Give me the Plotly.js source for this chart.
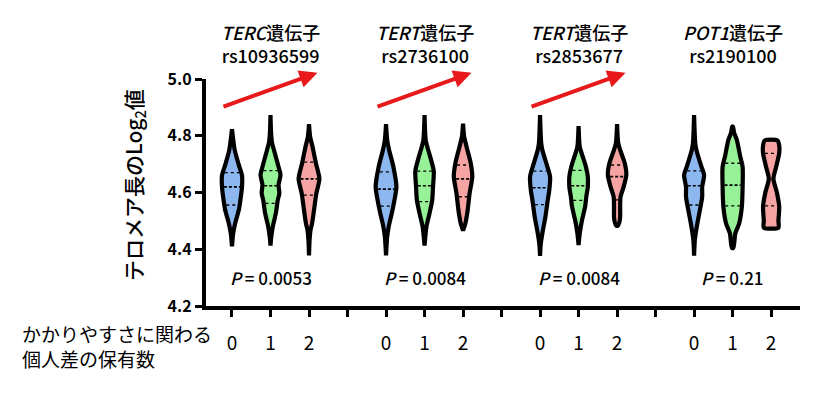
<!DOCTYPE html>
<html>
<head>
<meta charset="utf-8">
<script src="https://cdn.plot.ly/plotly-3.0.1.min.js"></script>
<style>html,body{margin:0;padding:0;background:#fff;}#chart{width:828px;height:398px;}</style>
</head>
<body>
<div id="chart"></div>
<script>
// ---------- data ----------
const groupLabels = ['0', '1', '2'];
const genes = ['TERC', 'TERT', 'TERT', 'POT1'];
const snps = ['rs10936599', 'rs2736100', 'rs2853677', 'rs2190100'];
const pValues = ['0.0053', '0.0084', '0.0084', '0.21'];
const trendUp = [true, true, true, false];
const fillColors = ['#8db7ef', '#97f197', '#f5a3a3'];

// quartiles per gene [0,1,2]
const medians = [[4.620, 4.624, 4.648], [4.612, 4.624, 4.648], [4.617, 4.624, 4.656], [4.624, 4.626, 4.648]];
const q3s = [[4.670, 4.677, 4.707], [4.673, 4.675, 4.697], [4.675, 4.678, 4.697], [4.676, 4.703, 4.738]];
const q1s = [[4.556, 4.562, 4.591], [4.552, 4.568, 4.585], [4.557, 4.572, 4.574], [4.556, 4.553, 4.553]];

// density outlines: [log2 value, half-width] from top to bottom
const densityTERC_rs10936599 = [
  [[4.823,0],[4.80,0.02],[4.75,0.07],[4.70,0.17],[4.66,0.26],[4.62,0.26],[4.575,0.22],[4.54,0.18],[4.49,0.08],[4.455,0.03],[4.41,0]],
  [[4.873,0],[4.81,0.015],[4.775,0.04],[4.75,0.09],[4.69,0.21],[4.662,0.26],[4.627,0.21],[4.597,0.23],[4.574,0.19],[4.527,0.14],[4.48,0.06],[4.444,0.02],[4.413,0]],
  [[4.841,0],[4.796,0.03],[4.762,0.09],[4.703,0.18],[4.648,0.27],[4.597,0.19],[4.538,0.13],[4.491,0.08],[4.468,0.04],[4.433,0.015],[4.378,0]]
];
const densityTERT_rs2736100 = [
  [[4.841,0],[4.785,0.03],[4.75,0.08],[4.691,0.19],[4.62,0.27],[4.574,0.22],[4.527,0.15],[4.48,0.07],[4.444,0.03],[4.378,0]],
  [[4.873,0],[4.785,0.03],[4.762,0.07],[4.715,0.17],[4.675,0.24],[4.62,0.22],[4.574,0.20],[4.527,0.13],[4.48,0.05],[4.413,0]],
  [[4.843,0],[4.796,0.03],[4.762,0.09],[4.703,0.20],[4.656,0.24],[4.597,0.17],[4.538,0.12],[4.491,0.06],[4.466,0]]
];
const densityTERT_rs2853677 = [
  [[4.873,0],[4.774,0.03],[4.75,0.06],[4.691,0.19],[4.656,0.26],[4.609,0.24],[4.574,0.20],[4.515,0.14],[4.456,0.06],[4.42,0.02],[4.377,0]],
  [[4.834,0],[4.762,0.03],[4.738,0.08],[4.691,0.19],[4.656,0.24],[4.62,0.24],[4.585,0.20],[4.55,0.17],[4.503,0.09],[4.456,0.03],[4.415,0]],
  [[4.841,0],[4.774,0.03],[4.75,0.08],[4.703,0.20],[4.662,0.24],[4.62,0.17],[4.585,0.09],[4.55,0.08],[4.515,0.08],[4.495,0.06],[4.483,0.02]]
];
const densityPOT1_rs2190100 = [
  [[4.873,0],[4.774,0.03],[4.75,0.06],[4.691,0.19],[4.662,0.26],[4.62,0.21],[4.585,0.21],[4.538,0.15],[4.48,0.07],[4.433,0.02],[4.377,0]],
  [[4.832,0.01],[4.81,0.04],[4.785,0.11],[4.726,0.20],[4.691,0.26],[4.62,0.26],[4.55,0.24],[4.491,0.17],[4.456,0.07],[4.405,0.02]],
  [[4.783,0.17],[4.765,0.21],[4.738,0.21],[4.69,0.13],[4.648,0.06],[4.60,0.15],[4.55,0.21],[4.50,0.19],[4.476,0.19]]
];
const densities = [densityTERC_rs10936599, densityTERT_rs2736100, densityTERT_rs2853677, densityPOT1_rs2190100];

// ---------- build ----------
const FONT = '"Noto Sans CJK JP", "Open Sans", sans-serif';
const LW = 4.2;
const lineInset = 0.05;
function pos(g, k) { return 1 + 4 * g + k; }
function hwAt(prof, v) {
  for (let i = 0; i < prof.length - 1; i++) {
    const a = prof[i], b = prof[i + 1];
    if (v <= a[0] && v >= b[0]) { const t = (a[0] - v) / (a[0] - b[0]); return a[1] + t * (b[1] - a[1]); }
  }
  return 0;
}

const traces = [];
const tickvals = [], ticktext = [];
for (let p = 1; p <= 4 * genes.length - 1; p++) {
  tickvals.push(p);
  const k = (p - 1) % 4;
  ticktext.push(k < 3 ? groupLabels[k] : '');
}

genes.forEach((gene, g) => {
  groupLabels.forEach((lab, k) => {
    const c = pos(g, k);
    const prof = densities[g][k];
    const xs = [], ys = [];
    prof.forEach(([v, w]) => { xs.push(c + w); ys.push(v); });
    for (let i = prof.length - 1; i >= 0; i--) { xs.push(c - prof[i][1]); ys.push(prof[i][0]); }
    xs.push(xs[0]); ys.push(ys[0]);
    traces.push({
      type: 'scatter', mode: 'lines', x: xs, y: ys, fill: 'toself', fillcolor: fillColors[k],
      line: { color: '#000', width: LW, shape: 'spline', smoothing: 0.7 }, hoverinfo: 'skip', cliponaxis: false
    });
    const qs = [[q1s[g][k], 'dot', 1.3], [medians[g][k], '3px,2px', 1.6], [q3s[g][k], 'dot', 1.3]];
    qs.forEach(([v, dash, wdt]) => {
      const w = Math.max(hwAt(prof, v) - lineInset, 0);
      traces.push({
        type: 'scatter', mode: 'lines', x: [c - w, c + w], y: [v, v],
        line: { color: '#000', width: wdt, dash: dash }, hoverinfo: 'skip'
      });
    });
  });
});

const annotations = [];
const yPix = py => (306 - py) / 227; // paper y helper for text rows
const titleFont = { family: FONT, size: 18, color: '#000', weight: 500 };
genes.forEach((gene, g) => {
  const c = pos(g, 1);
  annotations.push({ xref: 'x', yref: 'paper', x: c, y: yPix(43.5), text: '<i>' + gene + '</i>遺伝子<br>' + snps[g], showarrow: false,
    font: titleFont, xanchor: 'center', yanchor: 'middle', align: 'center' });
  annotations.push({ xref: 'x', yref: 'paper', x: c, y: yPix(277), text: '<i>P</i> = ' + pValues[g], showarrow: false,
    font: { family: FONT, size: 17, color: '#000', weight: 500 }, xanchor: 'center', yanchor: 'middle' });
  if (trendUp[g]) {
    annotations.push({ xref: 'x', yref: 'y', axref: 'x', ayref: 'y', x: c + 1.22, y: 5.022, ax: c - 1.26, ay: 4.901,
      text: '', showarrow: true, arrowhead: 2, arrowsize: 0.9, arrowwidth: 4, arrowcolor: '#e8191b', standoff: 0 });
  }
});
annotations.push({ xref: 'paper', yref: 'paper', x: (20 - 206) / 594, y: yPix(346), text: 'かかりやすさに関わる<br>個人差の保有数', showarrow: false,
  font: { family: FONT, size: 19, color: '#000' }, xanchor: 'left', yanchor: 'middle', align: 'left' });
annotations.push({ xref: 'paper', yref: 'paper', x: (134 - 206) / 594, y: yPix(185), text: 'テロメア長のLog<sub>2</sub>値', showarrow: false,
  textangle: -90, font: { family: FONT, size: 21, color: '#000', weight: 500 }, xanchor: 'center', yanchor: 'middle' });

const layout = {
  width: 828, height: 398,
  margin: { l: 206, r: 28, t: 79, b: 92 },
  paper_bgcolor: '#fff', plot_bgcolor: '#fff', showlegend: false,
  font: { family: FONT, color: '#000' },
  xaxis: {
    range: [0.325, 15.75], showgrid: false, zeroline: false, showline: true, linecolor: '#000', linewidth: LW,
    ticks: 'outside', ticklen: 7, tickwidth: 3, tickcolor: '#000', tickvals: tickvals, ticktext: ticktext,
    ticklabelstandoff: 10,
    tickfont: { family: FONT, size: 19, color: '#000' }, fixedrange: true
  },
  yaxis: {
    range: [4.2, 5.0], showgrid: false, zeroline: false, showline: true, linecolor: '#000', linewidth: LW,
    ticks: 'outside', ticklen: 7, tickwidth: 3, tickcolor: '#000', tickvals: [4.2, 4.4, 4.6, 4.8, 5.0], tickformat: '.1f',
    tickfont: { family: FONT, size: 16, color: '#000', weight: 'bold' }, fixedrange: true
  },
  annotations: annotations
};

Plotly.newPlot('chart', traces, layout, { displayModeBar: false, staticPlot: true });
</script>
</body>
</html>
